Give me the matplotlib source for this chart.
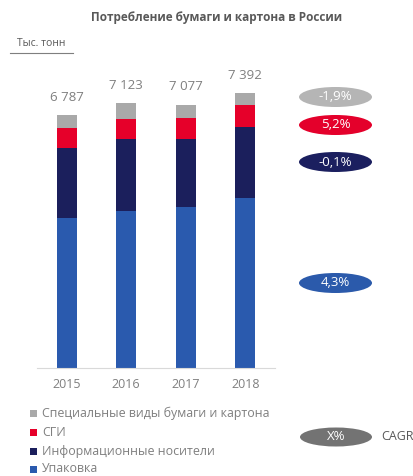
import matplotlib
matplotlib.use("Agg")
import matplotlib.pyplot as plt
from matplotlib.patches import Ellipse, Rectangle
import numpy as np

plt.rcParams['font.family'] = ['Open Sans', 'DejaVu Sans']

years = ['2015', '2016', '2017', '2018']
packaging = [4022, 4219, 4326, 4576]      # Упаковка
info_media = [1897, 1935, 1819, 1892]     # Информационные носители
sgi = [529, 545, 580, 599]                # СГИ
special = [339, 424, 352, 325]            # Специальные виды бумаги и картона
totals = ['6 787', '7 123', '7 077', '7 392']
cagr_labels = ['4,3%', '-0,1%', '5,2%', '-1,9%']
series_names = ['Упаковка', 'Информационные носители', 'СГИ',
                'Специальные виды бумаги и картона']

colors = ['#2a5aae', '#1b1f5c', '#e6002a', '#a9a9a9']
cagr_colors = ['#2b5aab', '#1b1f5f', '#e4002b', '#b5b5b5']
text_gray = '#7f7f7f'

W, H = 414, 476
fig = plt.figure(figsize=(W / 100, H / 100), dpi=100)

# main bar axes (pixel placement)
left_px, right_px, base_px = 37, 275, 368
ymax = 8300
top_px = base_px - ymax / 26.87
ax = fig.add_axes([left_px / W, (H - base_px) / H, (right_px - left_px) / W,
                   (base_px - top_px) / H])
x = np.arange(len(years))
bw = 0.335
bottom = np.zeros(len(years))
for vals, c in zip([packaging, info_media, sgi, special], colors):
    ax.bar(x, vals, bw, bottom=bottom, color=c, edgecolor='none')
    bottom += np.array(vals)
for xi, tot, lab in zip(x, bottom, totals):
    ax.text(xi, tot + 300, lab, ha='center', va='bottom', fontsize=9.5,
            color=text_gray)
ax.set_xlim(-0.5, 3.5)
ax.set_ylim(0, ymax)
ax.set_xticks(x)
ax.set_xticklabels(years, fontsize=9, color=text_gray)
ax.tick_params(axis='x', length=0, pad=7)
ax.set_yticks([])
for s in ['top', 'left', 'right']:
    ax.spines[s].set_visible(False)
ax.spines['bottom'].set_color('#d9d9d9')
ax.spines['bottom'].set_linewidth(0.8)
ax.patch.set_alpha(0)

# overlay axes in pixel coordinates
ov = fig.add_axes([0, 0, 1, 1])
ov.set_xlim(0, W)
ov.set_ylim(H, 0)
ov.axis('off')
ov.patch.set_alpha(0)

ov.text(217, 18, 'Потребление бумаги и картона в России', ha='center',
        va='center', fontsize=8.5, fontweight='bold', color='#595959')
ov.text(41, 43, 'Тыс. тонн', ha='center', va='center', fontsize=7.5,
        color='#595959')
ov.plot([10, 73], [53, 53], color='#7f7f7f', lw=0.8)

# CAGR ellipses
cagr_y = [283, 162, 125, 97]
for yy, lab, c in zip(cagr_y, cagr_labels, cagr_colors):
    ov.add_patch(Ellipse((335.5, yy), 73, 20, color=c, lw=0))
    ov.text(335.5, yy, lab, ha='center', va='center', fontsize=9.5,
            color='white')

# legend
leg_y = [469, 451, 432, 413]
for yy, name, c in zip(leg_y, series_names, colors):
    ov.add_patch(Rectangle((30, yy - 3.5), 7, 7, color=c, lw=0))
    ov.text(42, yy, name, ha='left', va='center', fontsize=8.9,
            color=text_gray)

ov.add_patch(Ellipse((336, 437), 72, 19, color='#737373', lw=0))
ov.text(336, 437, 'X%', ha='center', va='center', fontsize=9.5, color='white')
ov.text(381, 437, 'CAGR', ha='left', va='center', fontsize=9,
        color='#595959')

fig.savefig('out.png', dpi=100)
